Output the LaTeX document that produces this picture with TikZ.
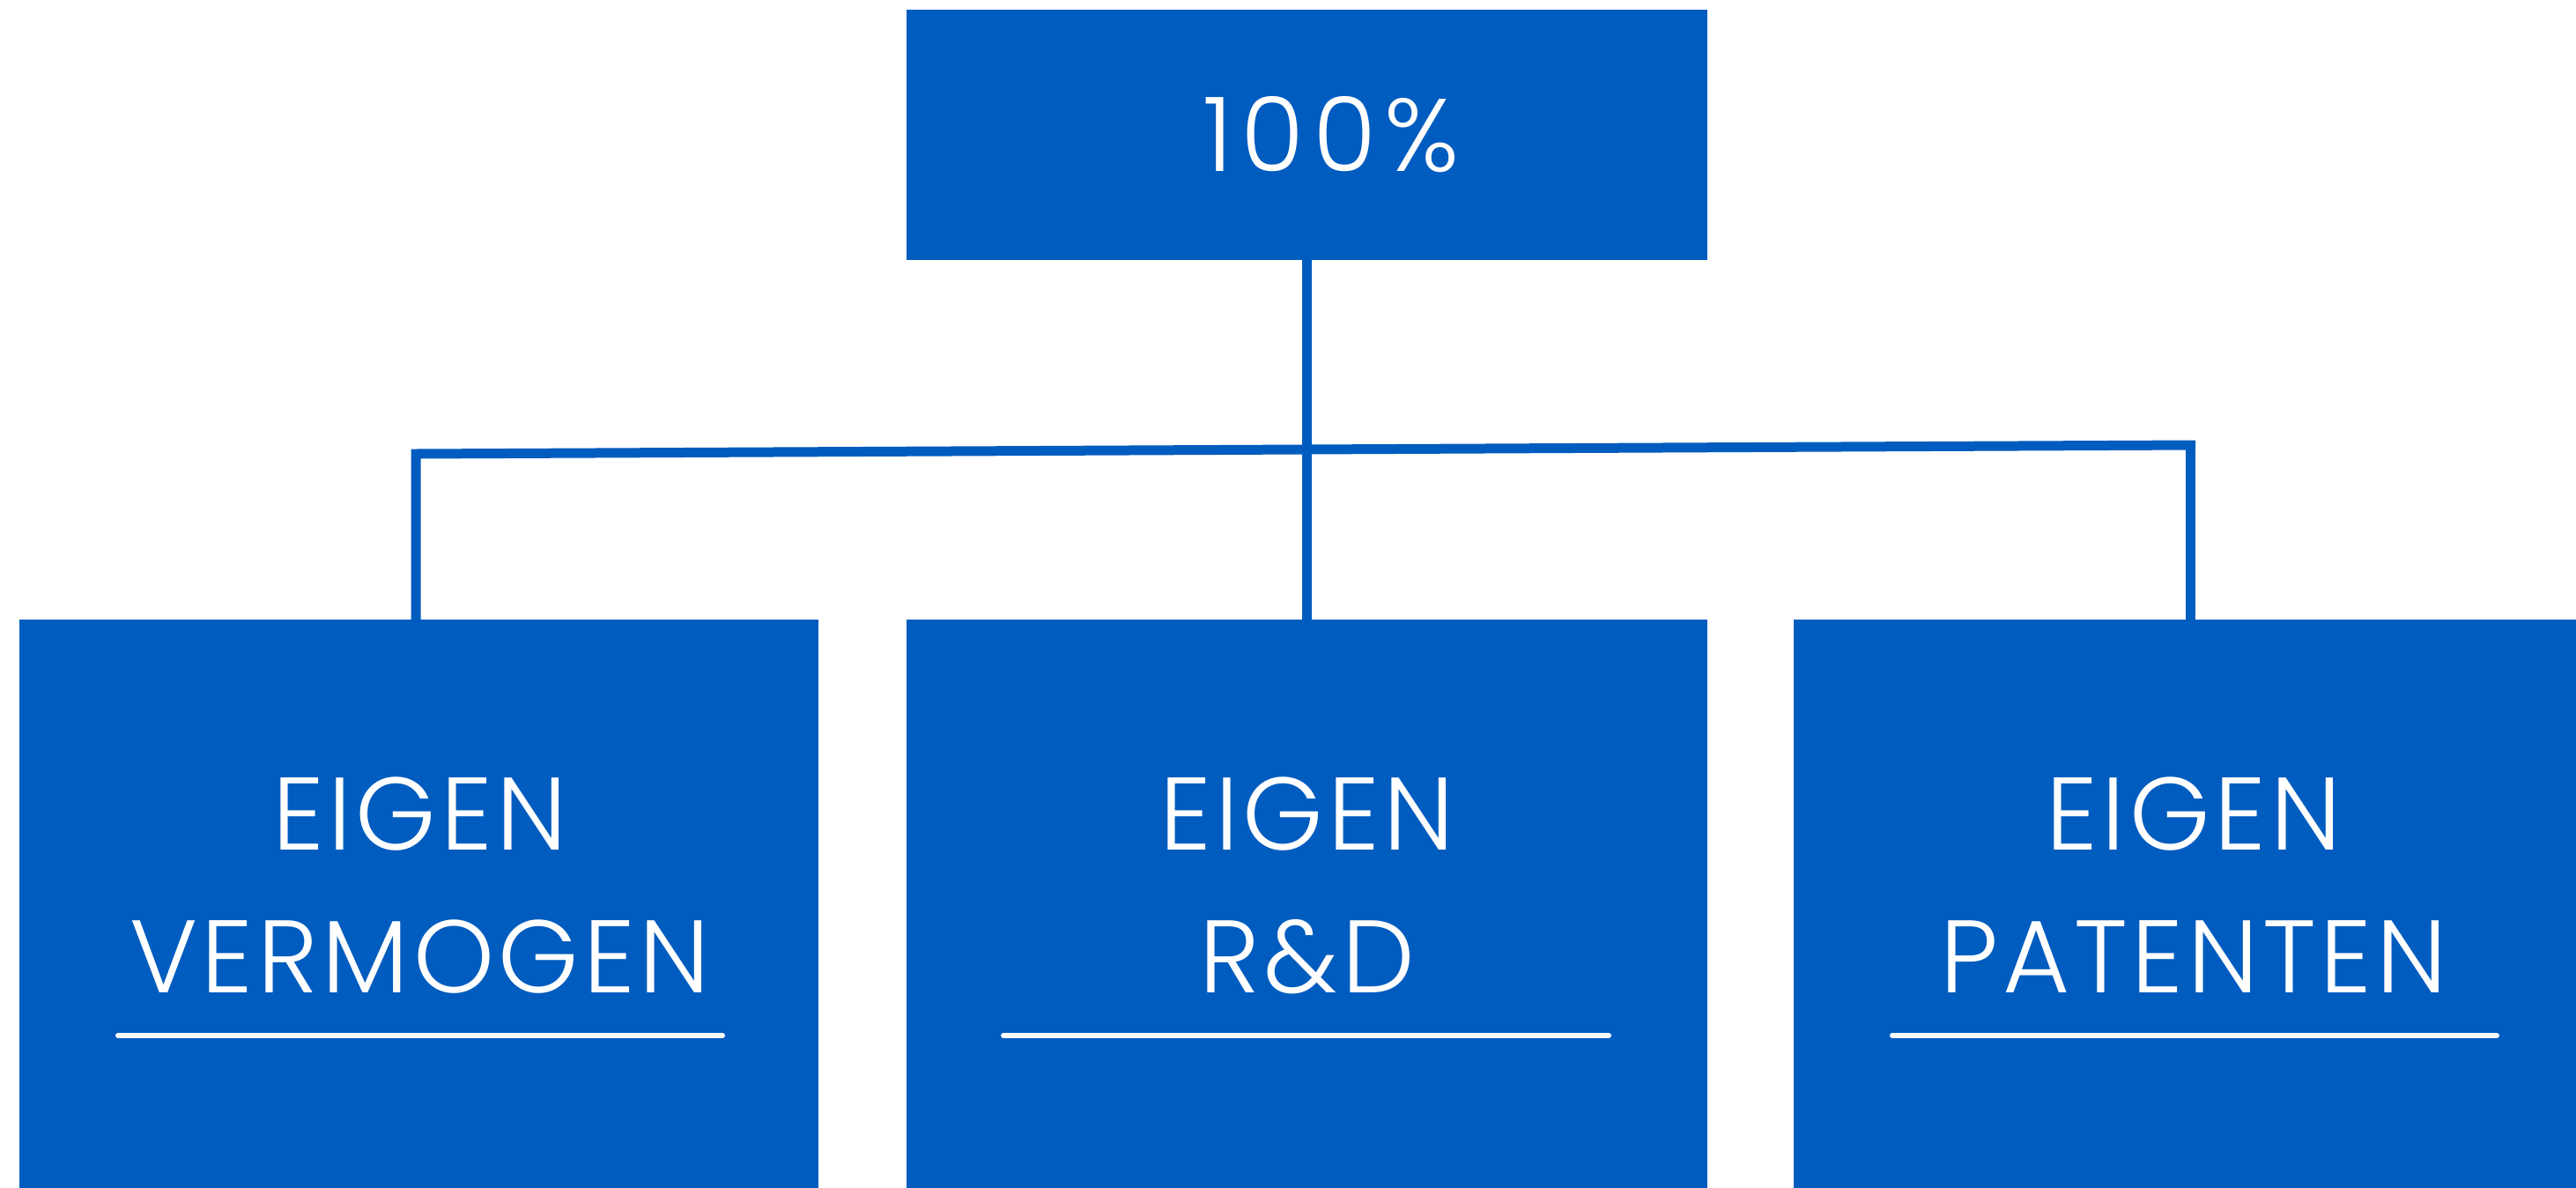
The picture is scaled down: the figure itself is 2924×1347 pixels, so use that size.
\documentclass[tikz,border=0pt]{standalone}
\usepackage{fontspec}
\setmainfont{Poppins}[UprightFont=* Light,LetterSpace=4]
\definecolor{boxblue}{HTML}{005CBF}
\begin{document}
\begin{tikzpicture}[x=1pt,y=-1pt,
  boxstyle/.style={fill=boxblue,draw=none,inner sep=0pt,outer sep=0pt},
  link/.style={draw=boxblue,line width=11pt},
  label/.style={text=white,anchor=base,inner sep=0pt,font=\fontsize{117}{140}\selectfont},
  rule/.style={draw=white,line width=6pt,line cap=round}]
\useasboundingbox (0,0) rectangle (2924,1347);
\fill[white] (0,0) rectangle (2924,1347);
% boxes
\node[boxstyle,minimum width=909pt,minimum height=284pt] (top) at (1483.5,153) {};
\node[boxstyle,minimum width=907pt,minimum height=680pt] (b1) at (475.5,1043) {};
\node[boxstyle,minimum width=909pt,minimum height=680pt] (b2) at (1483.5,1043) {};
\node[boxstyle,minimum width=908pt,minimum height=680pt] (b3) at (2490,1043) {};
% connectors
\coordinate (jl) at (472,515);
\coordinate (jr) at (2492,505);
\coordinate (vr) at (2486,505);
\draw[link] (top.south) -- (b2.north);
\draw[link] (b1.north -| jl) -- (jl) -- (jr);
\draw[link] (vr) -- (b3.north -| vr);
% texts
\node[label] (t0) at (1511,194) {\addfontfeature{LetterSpace=8}100\%};
\node[label] (t1a) at (476.5,964) {EIGEN};
\node[label] (t1b) at (476.5,1126) {VERMOGEN};
\node[label] (t2a) at (1483.5,964) {EIGEN};
\node[label] (t2b) at (1483.5,1126) {R\&D};
\node[label] (t3a) at (2490,964) {EIGEN};
\node[label] (t3b) at (2490,1126) {PATENTEN};
% underlines
\coordinate (u1l) at (134,1175); \coordinate (u1r) at (820,1175);
\coordinate (u2l) at (1139,1175); \coordinate (u2r) at (1826,1175);
\coordinate (u3l) at (2148,1175); \coordinate (u3r) at (2834,1175);
\draw[rule] (u1l) -- (u1r);
\draw[rule] (u2l) -- (u2r);
\draw[rule] (u3l) -- (u3r);
\end{tikzpicture}
\end{document}
